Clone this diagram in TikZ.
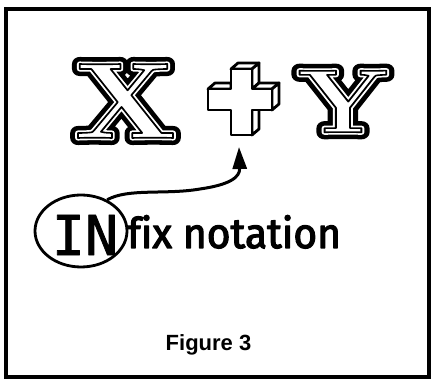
\documentclass[tikz,border=0pt]{standalone}
\usepackage{fontspec}
\usetikzlibrary{shapes.geometric,arrows.meta}
\newfontfamily\handfont{Fira Sans}[Ligatures=NoCommon]
\newfontfamily\infont{DejaVu Sans Mono}
\newfontfamily\capfont{Liberation Sans}
\newfontfamily\ltrfont{lmroman10-bold.otf}
\newcommand\outlinedltr[1]{%
  \makebox[0pt][l]{\special{pdf:literal direct 1 Tr 14 w 1 j}#1\special{pdf:literal direct 0 Tr}}%
  \makebox[0pt][l]{\special{pdf:literal direct 2 Tr 5 w 1 j 1 1 1 RG 1 1 1 rg}#1\special{pdf:literal direct 0 Tr 0 0 0 RG 0 0 0 rg}}%
  \special{pdf:literal direct 1 Tr 1.6 w 1 j}#1\special{pdf:literal direct 0 Tr}}
\newcommand\thickened[2]{\special{pdf:literal direct 2 Tr #1 w 1 j}#2\special{pdf:literal direct 0 Tr}}
\tikzset{
  frame/.style={line width=4pt},
  face/.style={draw=black,fill=white,line width=2.8pt,line join=round},
  bigletter/.style={inner sep=0pt,font=\ltrfont},
  loop/.style={ellipse,draw,line width=2.8pt,minimum width=92pt,minimum height=72pt,inner sep=0pt},
  pointer/.style={line width=3pt,-{Triangle[length=22pt,width=14pt]}},
}
\begin{document}
\begin{tikzpicture}[x=1pt,y=-1pt]
\useasboundingbox (0,0) rectangle (432,379);
\draw[frame] (5.5,9) rectangle (428.5,377.5);
% X and Y
\node[bigletter] (X) at (125.5,101) {\fontsize{108}{108}\selectfont\scalebox{1.1}[1]{\outlinedltr{X}}};
\node[bigletter] (Y) at (343,101.5) {\fontsize{90}{90}\selectfont\scalebox{1.16}[1]{\outlinedltr{Y}}};
% 3D plus
\filldraw[face] (231,69) -- (252,69) -- (259,63) -- (238,63) -- cycle;
\filldraw[face] (252,69) -- (259,63) -- (259,83) -- (252,89) -- cycle;
\filldraw[face] (208,89) -- (231,89) -- (231,83) -- (215,83) -- cycle;
\filldraw[face] (252,89) -- (272,89) -- (279,83) -- (259,83) -- cycle;
\filldraw[face] (272,89) -- (279,83) -- (279,104) -- (272,110) -- cycle;
\filldraw[face] (252,110) -- (259,104) -- (259,129) -- (252,135) -- cycle;
\filldraw[face] (231,69) -- (252,69) -- (252,89) -- (272,89) -- (272,110) -- (252,110)
  -- (252,135) -- (231,135) -- (231,110) -- (208,110) -- (208,89) -- (231,89) -- cycle;
\coordinate (plustip) at (239,147);
% IN fix notation
\node[loop] (in) at (81,231) {};
\node[font=\infont\fontsize{55}{55}\selectfont,inner sep=0pt] (intext) at (85,235) {\thickened{0.8}{IN}};
\node[font=\handfont\fontsize{42}{42}\selectfont,anchor=base west,inner sep=0pt] (fix) at (127,248) {\scalebox{0.97}[1]{\thickened{1.2}{fix notation}}};
\draw[pointer] (in.50) .. controls (128,188) and (165,195) .. (200,189) .. controls (228,185) and (240,178) .. (plustip);
% caption
\node[font=\capfont\bfseries\fontsize{22}{22}\selectfont,anchor=base] (cap) at (208.5,351) {Figure 3};
\end{tikzpicture}
\end{document}
